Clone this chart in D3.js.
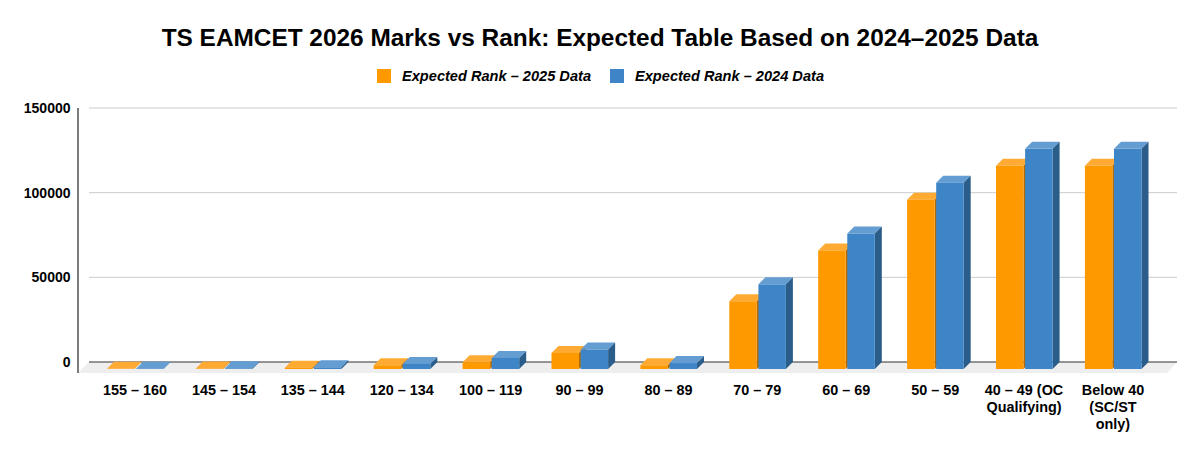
<!DOCTYPE html>
<html>
<head>
<meta charset="utf-8">
<script src="https://cdn.jsdelivr.net/npm/d3@7"></script>
<style>
  body { margin: 0; background: #fff; }
  text { font-family: "Liberation Sans", Arial, sans-serif; fill: #000; }
</style>
</head>
<body>
<script>
const categories = ['155 – 160', '145 – 154', '135 – 144', '120 – 134', '100 – 119', '90 – 99',
  '80 – 89', '70 – 79', '60 – 69', '50 – 59', '40 – 49 (OC Qualifying)', 'Below 40 (SC/ST only)']
const rank2025 = [100, 300, 800, 2200, 4000, 9500, 2200, 40000, 70000, 100000, 120000, 120000]
const rank2024 = [200, 400, 1000, 3000, 6500, 11500, 3500, 50000, 80000, 110000, 130000, 130000]
const seriesNames = ['Expected Rank – 2025 Data', 'Expected Rank – 2024 Data']
const yTicks = [0, 50000, 100000, 150000]
const colors = [
  { front: '#ff9900', top: '#ffab33', side: '#b36b00' },
  { front: '#3d85c6', top: '#649dd1', side: '#2b5d8a' }
]

let width = 1200
let height = 455
// 3d offset of the back wall
let depthX = 7
let depthY = 7
let barWidth = 27.5

let svg = d3.select('body').append('svg')
  .attr('width', width)
  .attr('height', height)

svg.append('text')
  .attr('x', 600)
  .attr('y', 46)
  .attr('text-anchor', 'middle')
  .style('font-size', '24.4px')
  .style('font-weight', 'bold')
  .text('TS EAMCET 2026 Marks vs Rank: Expected Table Based on 2024–2025 Data')

/* Legend */
let legendX = [377, 610]
seriesNames.forEach((name, i) => {
  svg.append('rect')
    .attr('x', legendX[i])
    .attr('y', 69)
    .attr('width', 14)
    .attr('height', 14)
    .style('fill', colors[i].front)
  svg.append('text')
    .attr('x', legendX[i] + 25)
    .attr('y', 81)
    .style('font-size', '14.6px')
    .style('font-weight', 'bold')
    .style('font-style', 'italic')
    .text(name)
})

/* Scales, y is the back wall */
let yScale = d3.scaleLinear().domain([0, 150000]).range([362, 108])
let xScale = d3.scaleBand().domain(categories).range([89.6, 1156.4])
let xInner = d3.scaleBand().domain(seriesNames).range([17.4, 75.6])

/* Floor and left wall */
svg.append('path')
  .attr('d', d3.line()([[89, 362], [1177, 362], [1167, 373], [78, 373]]))
  .style('fill', '#eeeeee')

yTicks.forEach(t => {
  svg.append('line')
    .attr('x1', 89)
    .attr('x2', 1177)
    .attr('y1', yScale(t))
    .attr('y2', yScale(t))
    .style('stroke', t === 0 ? '#333333' : '#cccccc')
    .style('stroke-width', '1px')
  svg.append('text')
    .attr('x', 70.5)
    .attr('y', yScale(t) + 5)
    .attr('text-anchor', 'end')
    .style('font-size', '14px')
    .style('font-weight', 'bold')
    .text(t)
})

svg.append('line')
  .attr('x1', 78)
  .attr('x2', 78)
  .attr('y1', yScale(150000))
  .attr('y2', 373)
  .style('stroke', '#444444')
  .style('stroke-width', '1.4px')

/* Bars */
let baseY = yScale(0) + depthY
let line = d3.line()
categories.forEach((cat, c) => {
  let barGroup = svg.append('g').attr('class', 'barGroup')
  ;[rank2025, rank2024].forEach((values, s) => {
    let x0 = xScale(cat) + xInner(seriesNames[s])
    let x1 = x0 + barWidth
    let yTop = yScale(values[c]) + depthY
    barGroup.append('path')
      .attr('d', line([[x0, yTop], [x0 + depthX, yTop - depthY], [x1 + depthX, yTop - depthY], [x1, yTop]]) + 'Z')
      .style('fill', colors[s].top)
    barGroup.append('path')
      .attr('d', line([[x1, yTop], [x1 + depthX, yTop - depthY], [x1 + depthX, baseY - depthY], [x1, baseY]]) + 'Z')
      .style('fill', colors[s].side)
    barGroup.append('rect')
      .attr('x', x0)
      .attr('y', yTop)
      .attr('width', barWidth)
      .attr('height', baseY - yTop)
      .style('fill', colors[s].front)
  })
})

/* Category labels, wrapped by hand to the width of a band */
let labelLines = {
  '40 – 49 (OC Qualifying)': ['40 – 49 (OC', 'Qualifying)'],
  'Below 40 (SC/ST only)': ['Below 40', '(SC/ST', 'only)']
}
categories.forEach(cat => {
  let rows = labelLines[cat] || [cat]
  rows.forEach((row, i) => {
    svg.append('text')
      .attr('x', xScale(cat) + xScale.bandwidth() / 2 + 1)
      .attr('y', 394.5 + i * 17)
      .attr('text-anchor', 'middle')
      .style('font-size', '14.4px')
      .style('font-weight', 'bold')
      .text(row)
  })
})
</script>
</body>
</html>
